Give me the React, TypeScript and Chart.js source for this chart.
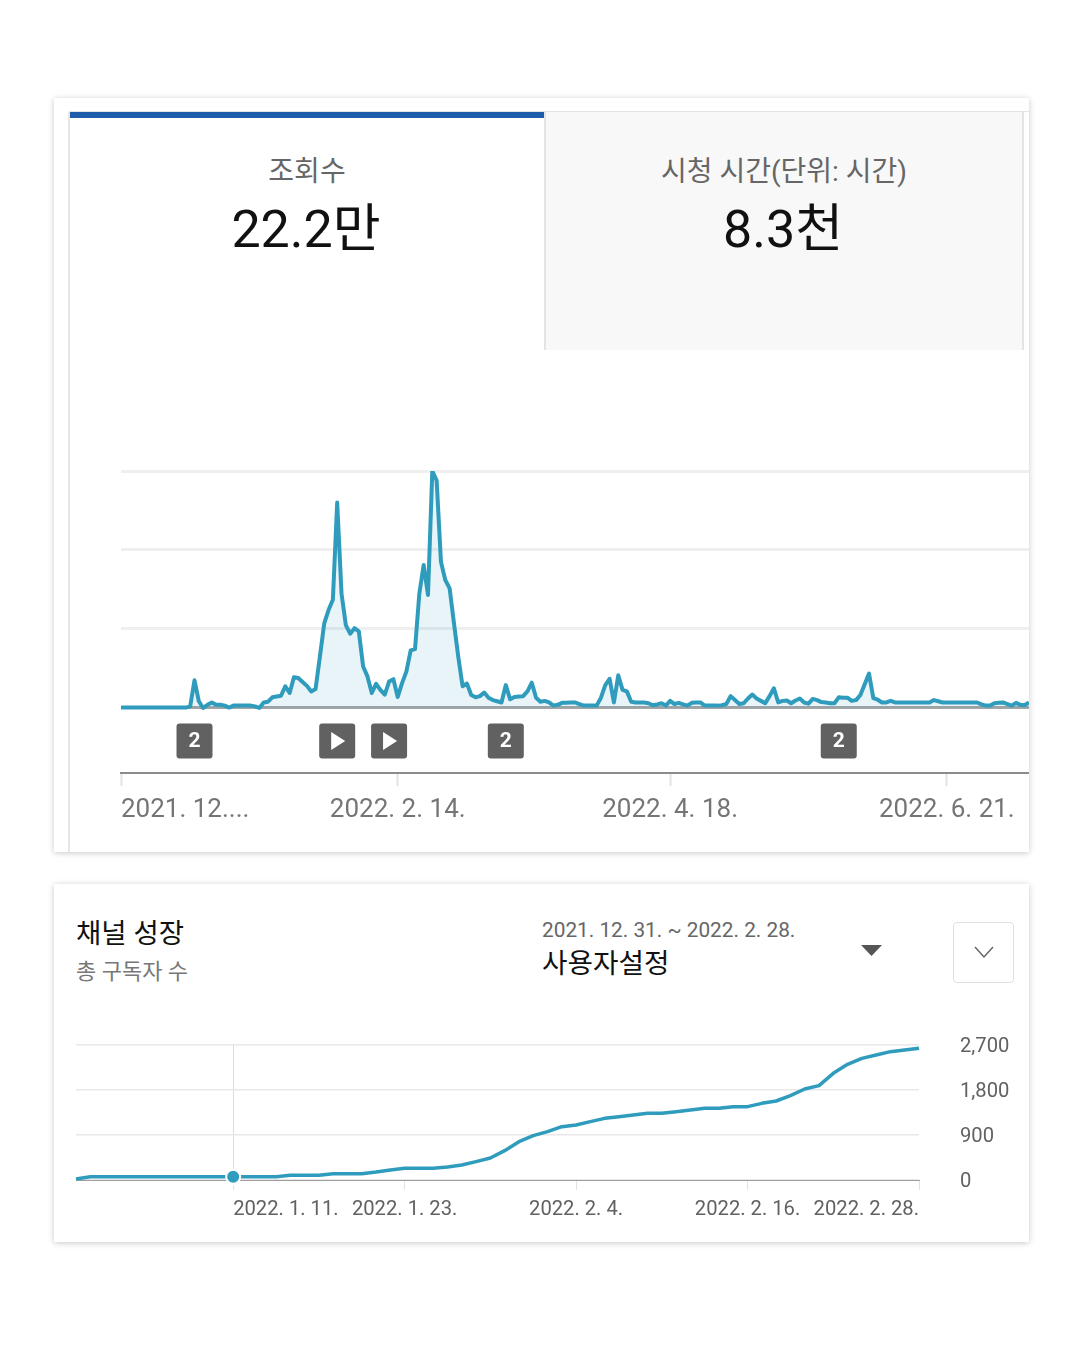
import React, { useEffect, useRef } from 'react';
import { Chart, registerables } from 'chart.js';

Chart.register(...registerables);

// top chart: daily views, one value per day from 2021. 12. 12.
const viewValues = [
  5, 5, 5, 5, 5, 5, 5, 5, 5, 5, 5, 5, 5, 5, 5, 5, 20, 350, 85, 0,
  40, 70, 40, 40, 30, 5, 30, 30, 30, 30, 30, 20, 0, 70, 80, 135, 145, 155, 275, 190,
  390, 380, 330, 280, 210, 240, 650, 1070, 1240, 1370, 2600, 1450, 1050, 940, 1010, 970, 525, 400, 190, 305,
  230, 170, 335, 365, 140, 315, 460, 730, 745, 1450, 1810, 1430, 3000, 2880, 1850, 1620, 1515, 1075, 650, 275,
  310, 165, 135, 150, 195, 130, 100, 85, 70, 290, 110, 140, 145, 150, 210, 320, 130, 80, 90, 70,
  30, 40, 65, 65, 70, 70, 50, 30, 30, 30, 30, 130, 290, 370, 70, 415, 230, 210, 80, 70,
  70, 70, 60, 35, 45, 60, 30, 90, 50, 65, 45, 30, 65, 70, 70, 30, 30, 30, 30, 35,
  50, 150, 100, 50, 60, 120, 170, 120, 90, 60, 150, 250, 70, 90, 95, 60, 95, 120, 70, 55,
  115, 100, 75, 70, 60, 60, 135, 130, 130, 90, 100, 165, 300, 435, 125, 105, 70, 70, 90, 70,
  70, 70, 70, 70, 70, 70, 70, 70, 100, 85, 70, 70, 70, 70, 70, 70, 70, 70, 70, 45,
  30, 30, 60, 65, 70, 50, 30, 65, 40, 35, 70,
];
const viewGridValues = [0, 1000, 2000, 3000];
const viewTickDays = [0, 64, 127, 191, 210];
const viewTickLabels = ['2021. 12....', '2022. 2. 14.', '2022. 4. 18.', '2022. 6. 21.', ''];
const markerDays = [17, 50, 62, 89, 166];
const markerKinds = ['2', 'play', 'play', '2', '2'];

// bottom chart: total subscribers, 2021. 12. 31. ~ 2022. 2. 28.
const subscriberValues = [
  20, 67, 67, 67, 67, 67, 67, 67, 67, 67, 67, 67, 67, 67, 67, 93, 93, 93, 127, 127,
  127, 160, 200, 233, 233, 233, 260, 300, 367, 440, 587, 767, 887, 967, 1067, 1100, 1167, 1233, 1267, 1300,
  1333, 1333, 1367, 1400, 1433, 1433, 1467, 1467, 1533, 1580, 1687, 1820, 1887, 2133, 2313, 2433, 2500, 2567, 2600, 2633,
];
const subscriberTicks = [0, 900, 1800, 2700];
const subscriberTickDays = [11, 23, 35, 47, 59];
const subscriberTickLabels = ['2022. 1. 11.', '2022. 1. 23.', '2022. 2. 4.', '2022. 2. 16.', '2022. 2. 28.'];
const hoverDay = 11;

const FONT = 'Roboto, "Noto Sans CJK KR", sans-serif';
const LINE = '#2f9cbd';

// the labels would otherwise push the plot area in
const noPadding = (scale: any) => {
  scale.paddingLeft = 0;
  scale.paddingRight = 0;
  scale.paddingTop = 0;
  scale.paddingBottom = 0;
};

const markerPlugin = {
  id: 'markers',
  afterDraw(chart: any) {
    const { ctx, scales } = chart;
    const cy = scales.y.getPixelForValue(-418);
    markerDays.forEach((day, i) => {
      const cx = scales.x.getPixelForValue(day);
      ctx.save();
      ctx.fillStyle = '#616161';
      ctx.beginPath();
      ctx.roundRect(cx - 18, cy - 17.5, 36, 35, 3);
      ctx.fill();
      ctx.fillStyle = '#fff';
      if (markerKinds[i] === 'play') {
        ctx.beginPath();
        ctx.moveTo(cx - 6, cy - 9);
        ctx.lineTo(cx + 8, cy);
        ctx.lineTo(cx - 6, cy + 9);
        ctx.closePath();
        ctx.fill();
      } else {
        ctx.font = 'bold 21px ' + FONT;
        ctx.textAlign = 'center';
        ctx.textBaseline = 'middle';
        ctx.fillText(markerKinds[i], cx, cy + 1);
      }
      ctx.restore();
    });
  },
};

function ViewsChart() {
  const canvasRef = useRef<HTMLCanvasElement>(null);

  useEffect(() => {
    if (!canvasRef.current) return;
    const chart = new Chart(canvasRef.current, {
      type: 'line',
      data: {
        datasets: [
          {
            data: viewValues.map((v, i) => ({ x: i, y: v })),
            borderColor: LINE,
            borderWidth: 4,
            borderJoinStyle: 'round',
            pointRadius: 0,
            tension: 0,
            fill: { target: { value: 0 }, above: 'rgba(47,156,189,0.11)', below: 'rgba(0,0,0,0)' },
          },
        ],
      },
      options: {
        responsive: false,
        animation: false,
        layout: { autoPadding: false, padding: { left: 51, right: 0, top: 11, bottom: 0 } },
        plugins: { legend: { display: false }, tooltip: { enabled: false } },
        scales: {
          x: {
            type: 'linear',
            min: 0,
            max: 210,
            afterBuildTicks: (scale: any) => {
              scale.ticks = viewTickDays.map((value) => ({ value }));
            },
            afterFit: (scale: any) => {
              scale.height = 67;
              noPadding(scale);
            },
            ticks: {
              autoSkip: false,
              maxRotation: 0,
              align: 'inner',
              padding: 9,
              color: '#757575',
              font: { size: 26, family: FONT },
              callback: (_v: any, i: number) => viewTickLabels[i],
            },
            grid: {
              drawOnChartArea: false,
              tickLength: 13,
              tickWidth: 2,
              tickColor: (c: any) => (c.index === viewTickDays.length - 1 ? 'rgba(0,0,0,0)' : '#e2e2e2'),
            },
            border: { color: '#8c8c8c', width: 2 },
          },
          y: {
            min: -823,
            max: 3000,
            afterBuildTicks: (scale: any) => {
              scale.ticks = viewGridValues.map((value) => ({ value }));
            },
            afterFit: (scale: any) => {
              scale.width = 0;
              noPadding(scale);
            },
            ticks: { display: false },
            grid: {
              drawTicks: false,
              lineWidth: 3,
              color: (c: any) => (c.tick.value === 0 ? '#a6a6a6' : '#efefef'),
            },
            border: { display: false },
          },
        },
      },
      plugins: [markerPlugin],
    } as any);
    return () => chart.destroy();
  }, []);

  return <canvas ref={canvasRef} width={959} height={380} style={{ position: 'absolute', left: 70, top: 460 }} />;
}

function SubscribersChart() {
  const canvasRef = useRef<HTMLCanvasElement>(null);

  useEffect(() => {
    if (!canvasRef.current) return;
    const chart = new Chart(canvasRef.current, {
      type: 'line',
      data: {
        datasets: [
          {
            data: subscriberValues.map((v, i) => ({ x: i, y: v })),
            borderColor: LINE,
            borderWidth: 3.5,
            borderJoinStyle: 'round',
            tension: 0,
            clip: false,
            pointRadius: (c: any) => (c.dataIndex === hoverDay ? 7 : 0),
            pointBackgroundColor: LINE,
            pointBorderColor: '#fff',
            pointBorderWidth: 2,
          },
        ],
      },
      options: {
        responsive: false,
        animation: false,
        layout: { autoPadding: false, padding: { left: 22, right: 0, top: 15, bottom: 0 } },
        plugins: { legend: { display: false }, tooltip: { enabled: false } },
        scales: {
          x: {
            type: 'linear',
            min: 0,
            max: 59,
            afterBuildTicks: (scale: any) => {
              scale.ticks = subscriberTickDays.map((value) => ({ value }));
            },
            afterFit: (scale: any) => {
              scale.height = 50;
              noPadding(scale);
            },
            ticks: {
              autoSkip: false,
              maxRotation: 0,
              align: 'inner',
              padding: 8,
              color: '#616161',
              font: { size: 20.2, family: FONT },
              callback: (_v: any, i: number) => subscriberTickLabels[i],
            },
            grid: {
              tickLength: 10,
              color: (c: any) => (c.tick && c.tick.value === hoverDay ? '#dcdcdc' : 'rgba(0,0,0,0)'),
              tickColor: '#e2e2e2',
            },
            border: { color: '#9e9e9e', width: 1 },
          },
          y: {
            position: 'right',
            min: 0,
            max: 2700,
            afterBuildTicks: (scale: any) => {
              scale.ticks = subscriberTicks.map((value) => ({ value }));
            },
            afterFit: (scale: any) => {
              scale.width = 110;
              noPadding(scale);
            },
            ticks: {
              padding: 41,
              labelOffset: 2,
              color: '#616161',
              font: { size: 20.2, family: FONT },
              callback: (v: any) => Number(v).toLocaleString('en-US'),
            },
            grid: { drawTicks: false, color: '#e8e8e8', lineWidth: 1.5 },
            border: { display: false },
          },
        },
      },
    } as any);
    return () => chart.destroy();
  }, []);

  return <canvas ref={canvasRef} width={975} height={200} style={{ position: 'absolute', left: 54, top: 1030 }} />;
}

function Label(props: { x: number; y: number; size: number; color: string; center?: boolean; text: string }) {
  return (
    <div
      style={{
        position: 'absolute',
        left: props.x,
        top: props.y,
        transform: props.center ? 'translate(-50%,-50%)' : 'translateY(-50%)',
        fontSize: props.size,
        color: props.color,
        whiteSpace: 'nowrap',
        lineHeight: 1,
      }}
    >
      {props.text}
    </div>
  );
}

const card: React.CSSProperties = {
  position: 'absolute',
  left: 54,
  width: 975,
  background: '#fff',
  boxShadow: '0 1px 6px rgba(0,0,0,0.22)',
};

export default function App() {
  useEffect(() => {
    document.body.style.margin = '0';
  }, []);

  return (
    <div style={{ position: 'relative', width: 1081, height: 1351, background: '#fff', fontFamily: FONT, overflow: 'hidden' }}>
      <div style={{ ...card, top: 98, height: 754 }} />
      <div style={{ position: 'absolute', left: 69, top: 111, width: 960, height: 1, background: '#e4e4e4' }} />
      <div style={{ position: 'absolute', left: 68, top: 112, width: 2, height: 740, background: '#e6e6e6' }} />
      <div style={{ position: 'absolute', left: 70, top: 112, width: 474, height: 6, background: '#1f5dab' }} />
      <div
        style={{
          position: 'absolute',
          left: 544,
          top: 112,
          width: 476,
          height: 238,
          background: '#f8f8f8',
          borderLeft: '2px solid #e4e4e4',
          borderRight: '2px solid #e4e4e4',
        }}
      />
      <Label x={307} y={172} size={28} color="#666" center text="조회수" />
      <Label x={306} y={230} size={52} color="#111" center text="22.2만" />
      <Label x={784} y={172} size={28} color="#666" center text="시청 시간(단위: 시간)" />
      <Label x={783} y={230} size={52} color="#111" center text="8.3천" />
      <ViewsChart />

      <div style={{ ...card, top: 884, height: 358 }} />
      <Label x={76} y={934} size={27.5} color="#111" text="채널 성장" />
      <Label x={76} y={972} size={22} color="#777" text="총 구독자 수" />
      <Label x={542} y={930} size={20.8} color="#666" text="2021. 12. 31. ~ 2022. 2. 28." />
      <Label x={542} y={964} size={27.7} color="#111" text="사용자설정" />
      <svg style={{ position: 'absolute', left: 861, top: 945 }} width={21} height={11}>
        <polygon points="0,0 21,0 10.5,11" fill="#555" />
      </svg>
      <div
        style={{
          position: 'absolute',
          left: 953,
          top: 922,
          width: 59,
          height: 59,
          border: '1px solid #e0e0e0',
          borderRadius: 4,
        }}
      />
      <svg style={{ position: 'absolute', left: 973, top: 945 }} width={22} height={14}>
        <polyline points="2,2 11,12 20,2" fill="none" stroke="#666" strokeWidth={1.5} />
      </svg>
      <SubscribersChart />
    </div>
  );
}
